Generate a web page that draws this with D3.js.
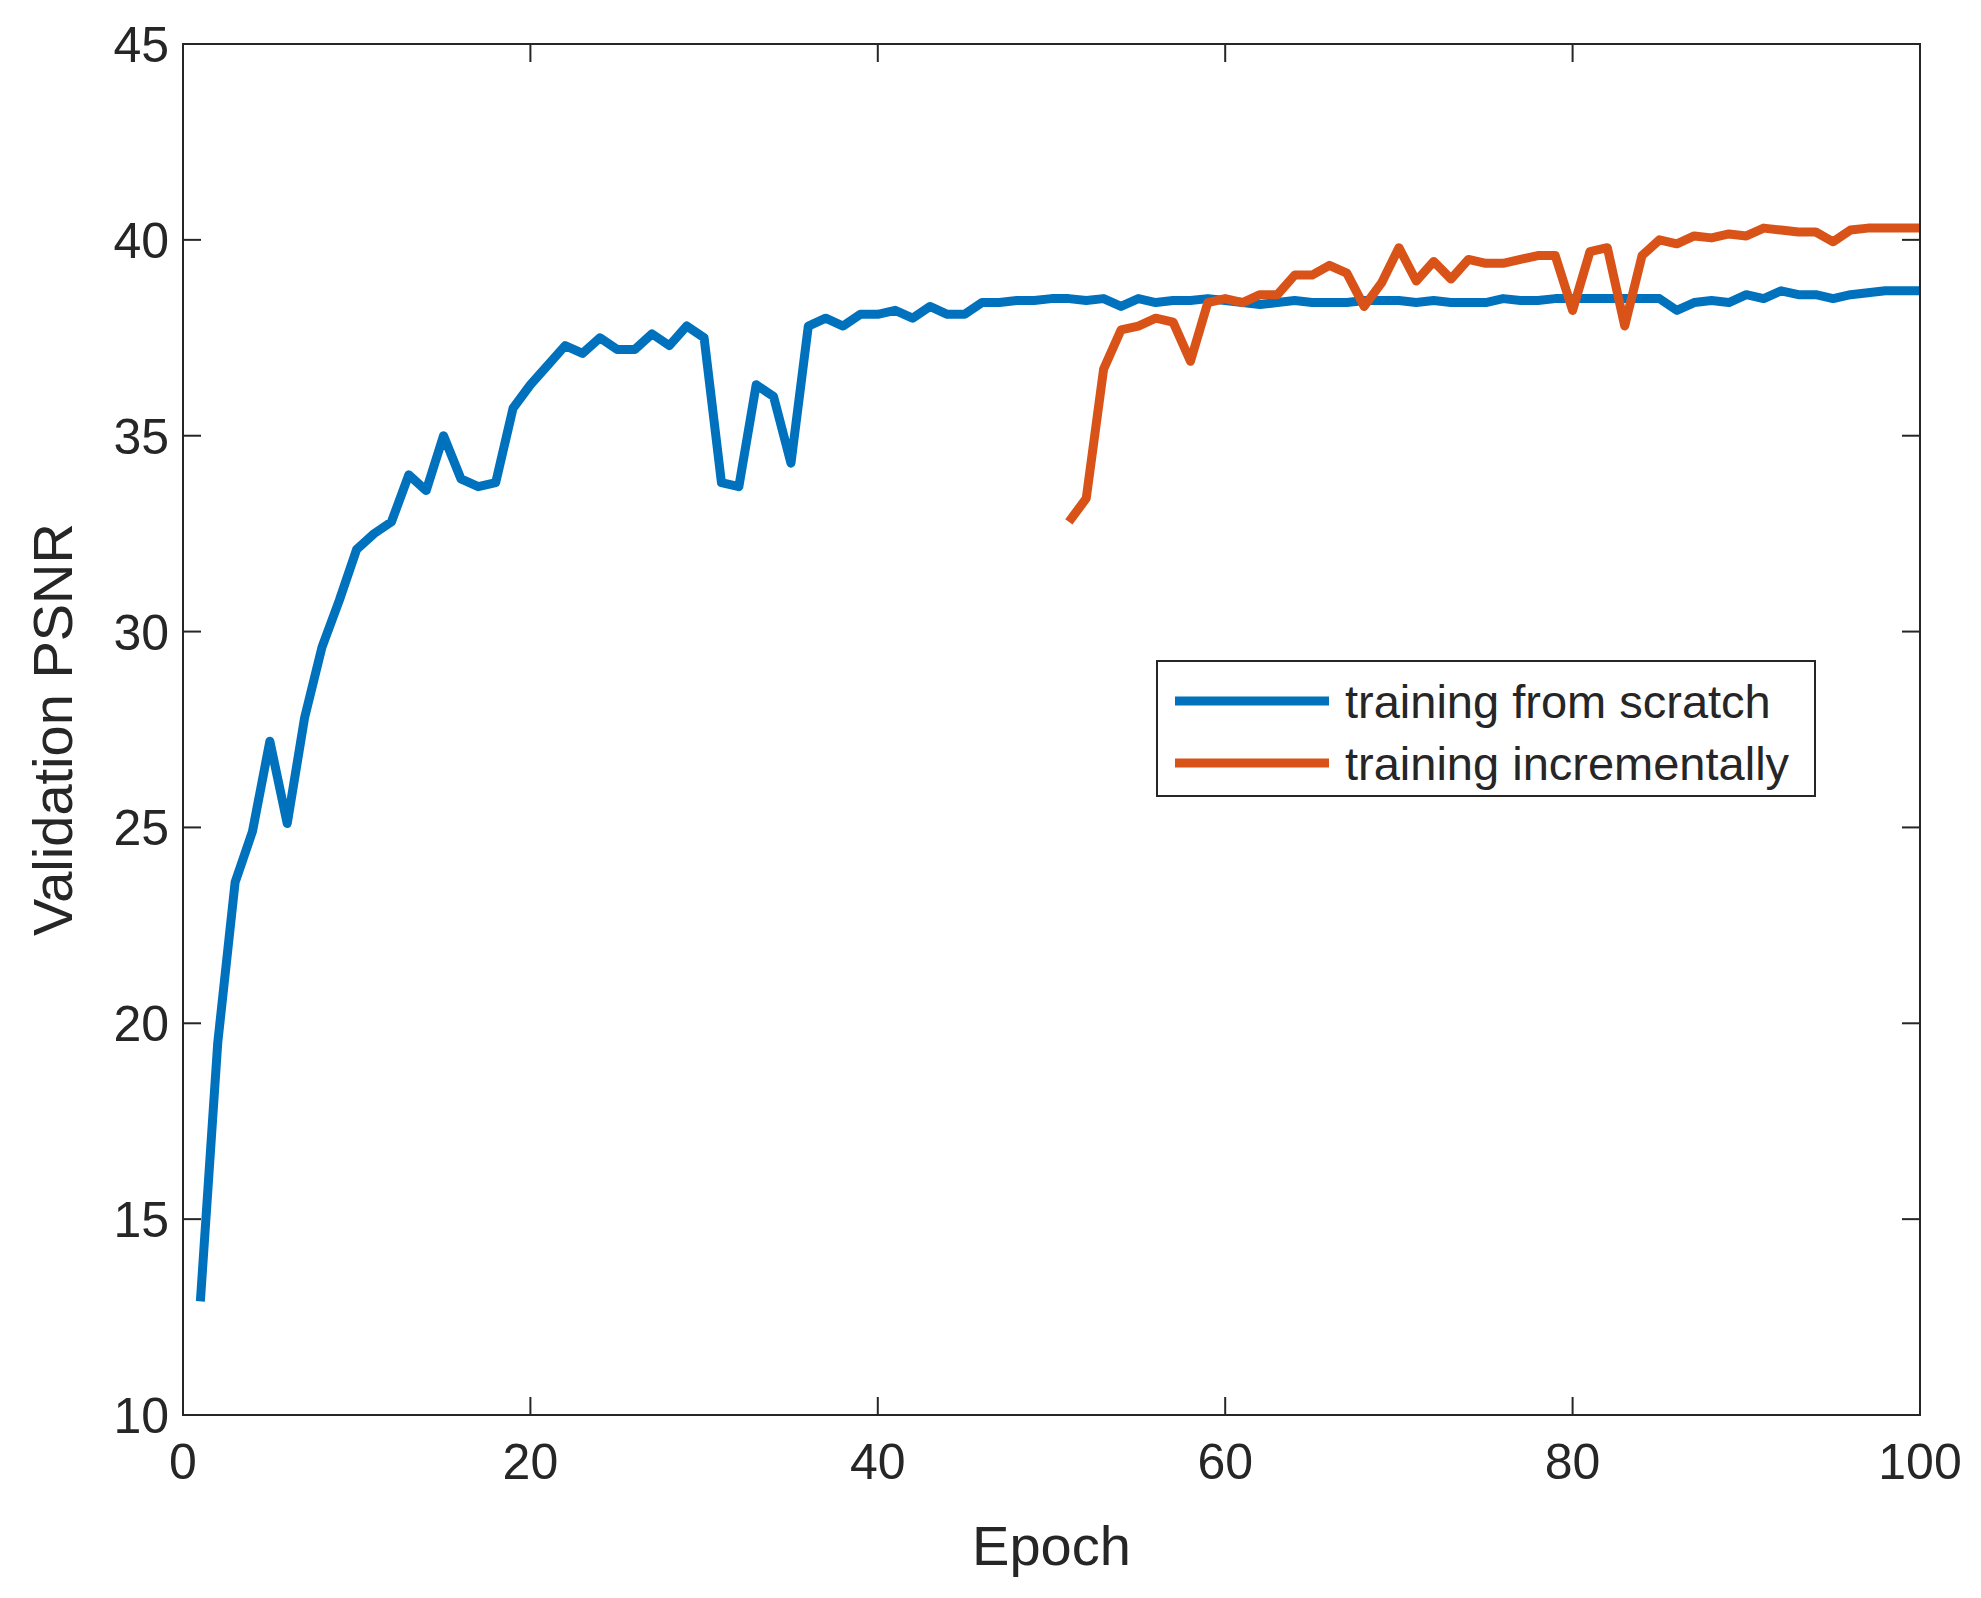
<!DOCTYPE html>
<html><head><meta charset="utf-8">
<script src="https://cdn.jsdelivr.net/npm/d3@7"></script>
<style>body{margin:0;background:#fff}text{font-family:"Liberation Sans",Arial,sans-serif;fill:#262626}</style>
</head><body>
<svg id="c" width="1981" height="1598"></svg>
<script>
// blue: epochs 1..100
const scratch = [12.9,19.5,23.6,24.9,27.2,25.1,27.8,29.6,30.8,32.1,32.5,32.8,34.0,33.6,35.0,33.9,33.7,33.8,35.7,36.3,
  36.8,37.3,37.1,37.5,37.2,37.2,37.6,37.3,37.8,37.5,33.8,33.7,36.3,36.0,34.3,37.8,38.0,37.8,38.1,38.1,
  38.2,38.0,38.3,38.1,38.1,38.4,38.4,38.45,38.45,38.5,38.5,38.45,38.5,38.3,38.5,38.4,38.45,38.45,38.5,38.45,
  38.4,38.35,38.4,38.45,38.4,38.4,38.4,38.45,38.45,38.45,38.4,38.45,38.4,38.4,38.4,38.5,38.45,38.45,38.5,38.5,
  38.5,38.5,38.5,38.5,38.5,38.2,38.4,38.45,38.4,38.6,38.5,38.7,38.6,38.6,38.5,38.6,38.65,38.7,38.7,38.7];
// orange: epochs 51..100
const incStart = 51;
const incremental = [32.8,33.4,36.7,37.7,37.8,38.0,37.9,36.9,38.4,38.5,38.4,38.6,38.6,39.1,39.1,39.35,39.15,38.3,38.9,39.8,
  38.95,39.45,39.0,39.5,39.4,39.4,39.5,39.6,39.6,38.2,39.7,39.8,37.8,39.6,40.0,39.9,40.1,40.05,40.15,40.1,
  40.3,40.25,40.2,40.2,39.95,40.25,40.3,40.3,40.3,40.3];
const xTicks = [0,20,40,60,80,100];
const yTicks = [10,15,20,25,30,35,40,45];
const names = ["training from scratch","training incrementally"];
const colors = ["#0072BD","#D95319"];

const L=183,R=1920,T=44,B=1415;
const svg=d3.select("#c");
const x=d3.scaleLinear().domain([0,100]).range([L,R]);
const y=d3.scaleLinear().domain([10,45]).range([B,T]);
const tk=18, ax="#262626";

const g=svg.append("g");
xTicks.forEach(v=>{
  g.append("line").attr("x1",x(v)).attr("x2",x(v)).attr("y1",B).attr("y2",B-tk).attr("stroke",ax).attr("stroke-width",2);
  g.append("line").attr("x1",x(v)).attr("x2",x(v)).attr("y1",T).attr("y2",T+tk).attr("stroke",ax).attr("stroke-width",2);
  g.append("text").attr("x",x(v)).attr("y",B+64).attr("text-anchor","middle").attr("font-size",50).text(v);
});
yTicks.forEach(v=>{
  g.append("line").attr("x1",L).attr("x2",L+tk).attr("y1",y(v)).attr("y2",y(v)).attr("stroke",ax).attr("stroke-width",2);
  g.append("line").attr("x1",R).attr("x2",R-tk).attr("y1",y(v)).attr("y2",y(v)).attr("stroke",ax).attr("stroke-width",2);
  g.append("text").attr("x",L-14).attr("y",y(v)+18).attr("text-anchor","end").attr("font-size",50).text(v);
});

const line=d3.line().x(d=>x(d[0])).y(d=>y(d[1]));
svg.append("path").datum(scratch.map((v,i)=>[i+1,v])).attr("d",line)
  .attr("fill","none").attr("stroke",colors[0]).attr("stroke-width",9).attr("stroke-linejoin","round");
svg.append("path").datum(incremental.map((v,i)=>[i+incStart,v])).attr("d",line)
  .attr("fill","none").attr("stroke",colors[1]).attr("stroke-width",9).attr("stroke-linejoin","round");

svg.append("rect").attr("x",L).attr("y",T).attr("width",R-L).attr("height",B-T)
  .attr("fill","none").attr("stroke",ax).attr("stroke-width",2);

svg.append("text").attr("x",(L+R)/2).attr("y",1565).attr("text-anchor","middle").attr("font-size",56).text("Epoch");
svg.append("text").attr("transform",`translate(72,${(T+B)/2}) rotate(-90)`).attr("text-anchor","middle").attr("font-size",56).text("Validation PSNR");

const lg=svg.append("g").attr("transform","translate(1157,661)");
lg.append("rect").attr("width",658).attr("height",135).attr("fill","#fff").attr("stroke","#262626").attr("stroke-width",2);
names.forEach((n,i)=>{
  const yy=40+i*62;
  lg.append("line").attr("x1",18).attr("x2",172).attr("y1",yy).attr("y2",yy).attr("stroke",colors[i]).attr("stroke-width",9);
  lg.append("text").attr("x",188).attr("y",yy+17).attr("font-size",47).text(n);
});
</script>
</body></html>
